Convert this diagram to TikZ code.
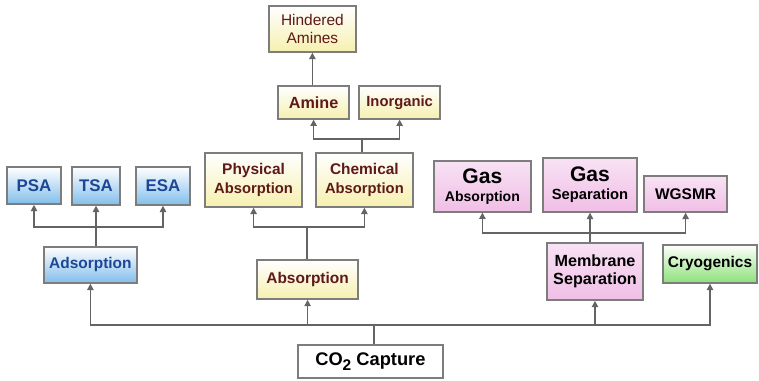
\documentclass[tikz,border=0pt]{standalone}
\usepackage{fontspec}
\setmainfont{Liberation Sans}
\usetikzlibrary{arrows.meta}

\definecolor{LineGray}{RGB}{100,100,100}
\definecolor{BorderGray}{RGB}{125,125,125}
\definecolor{AdsBlue}{RGB}{130,190,235}
\definecolor{AdsText}{RGB}{30,70,150}
\definecolor{AbsYellow}{RGB}{246,240,175}
\definecolor{AbsText}{RGB}{95,25,25}
\definecolor{MemPink}{RGB}{240,190,230}
\definecolor{CryoGreen}{RGB}{140,225,120}

\begin{document}
\begin{tikzpicture}
[
>={Triangle[length=4.5pt,width=4.5pt]},
font=\bfseries\fontsize{11}{13}\selectfont,
Box/.style={rectangle, draw=BorderGray, line width=1pt, inner sep=1pt, align=center},
BlueBox/.style={Box, top color=white, bottom color=AdsBlue, text=AdsText},
YellowBox/.style={Box, top color=white, bottom color=AbsYellow, text=AbsText},
PinkBox/.style={Box, top color=MemPink!45, bottom color=MemPink, text=black},
GreenBox/.style={Box, top color=white, bottom color=CryoGreen, text=black},
WhiteBox/.style={Box, fill=white, text=black},
Connector/.style={-, draw=LineGray, line width=1pt},
ConArrow/.style={->, draw=LineGray, line width=1pt},
]

\useasboundingbox (0,0) rectangle (18.975,9.5);

% top level
\node[WhiteBox, minimum width=3.625cm, minimum height=0.825cm] (co2) at (9.26,0.46)
    {\fontsize{13}{15}\selectfont CO\raisebox{-0.45ex}{\fontsize{11}{11}\selectfont 2} Capture};

\node[BlueBox, minimum width=2.325cm, minimum height=0.9cm] (adsorp) at (2.26,2.875) {Adsorption};
\node[YellowBox, minimum width=2.525cm, minimum height=0.975cm] (absorp) at (7.69,2.51) {Absorption};
\node[PinkBox, minimum width=2.4cm, minimum height=1.425cm] (membr) at (14.875,2.71)
    {\fontsize{11.5}{15}\selectfont Membrane\\ \fontsize{11.5}{15}\selectfont Separation};
\node[GreenBox, minimum width=2.35cm, minimum height=0.95cm] (cryo) at (17.75,2.9) {Cryogenics};

% adsorption
\node[BlueBox, minimum width=1.35cm, minimum height=0.925cm] (psa) at (0.85,4.86) {\fontsize{12}{14}\selectfont PSA};
\node[BlueBox, minimum width=1.2cm, minimum height=0.95cm] (tsa) at (2.4,4.85) {\fontsize{12}{14}\selectfont TSA};
\node[BlueBox, minimum width=1.35cm, minimum height=0.95cm] (esa) at (4.075,4.85) {\fontsize{12}{14}\selectfont ESA};

% absorption
\node[YellowBox, minimum width=2.425cm, minimum height=1.35cm] (phys) at (6.34,5.0)
    {\fontsize{11}{15}\selectfont Physical\\ \fontsize{10.5}{15}\selectfont Absorption};
\node[YellowBox, minimum width=2.425cm, minimum height=1.35cm] (chem) at (9.11,5.0)
    {\fontsize{11}{15}\selectfont Chemical\\ \fontsize{10.5}{15}\selectfont Absorption};
\node[YellowBox, minimum width=1.775cm, minimum height=0.825cm] (amine) at (7.84,6.94) {\fontsize{11.5}{14}\selectfont Amine};
\node[YellowBox, minimum width=2.025cm, minimum height=0.825cm] (inorg) at (9.99,6.94) {\fontsize{10.5}{13}\selectfont Inorganic};
\node[YellowBox, minimum width=2.175cm, minimum height=1.15cm, font=\mdseries\fontsize{11}{13}\selectfont] (hind) at (7.81,8.775)
    {Hindered\\Amines};

% membrane separation
\node[PinkBox, minimum width=2.425cm, minimum height=1.275cm] (gasabs) at (12.06,4.84)
    {\fontsize{15}{15}\selectfont Gas\\ \fontsize{10}{12}\selectfont Absorption};
\node[PinkBox, minimum width=2.35cm, minimum height=1.35cm] (gassep) at (14.75,4.875)
    {\fontsize{15}{15}\selectfont Gas\\ \fontsize{10.5}{12}\selectfont Separation};
\node[PinkBox, minimum width=2.075cm, minimum height=0.9cm] (wgsmr) at (17.14,4.65) {WGSMR};

% bus
\coordinate (bus) at (9.35,1.375);
\draw[Connector] (co2.north -| bus) -- (bus);
\draw[ConArrow] (bus) -| (adsorp.south);
\draw[ConArrow] (bus) -| (absorp.south);
\draw[ConArrow] (bus) -| (membr.south);
\draw[ConArrow] (bus) -| (cryo.south);

\coordinate (adsj) at (2.4,3.825);
\draw[ConArrow] (adsorp.north -| adsj) -- (tsa.south);
\draw[ConArrow] (adsj) -| (psa.south);
\draw[ConArrow] (adsj) -| (esa.south);

\coordinate (absj) at (7.675,3.825);
\draw[Connector] (absorp.north -| absj) -- (absj);
\draw[ConArrow] (absj) -| (phys.south);
\draw[ConArrow] (absj) -| (chem.south);

\coordinate (chemj) at (9.05,6.025);
\draw[Connector] (chem.north -| chemj) -- (chemj);
\draw[ConArrow] (chemj) -| (amine.south);
\draw[ConArrow] (chemj) -| (inorg.south);
\draw[ConArrow] (hind.south |- amine.north) -- (hind.south);

\coordinate (memj) at (14.75,3.675);
\draw[ConArrow] (membr.north -| memj) -- (gassep.south);
\draw[ConArrow] (memj) -| (gasabs.south);
\draw[ConArrow] (memj) -| (wgsmr.south);

\end{tikzpicture}
\end{document}
